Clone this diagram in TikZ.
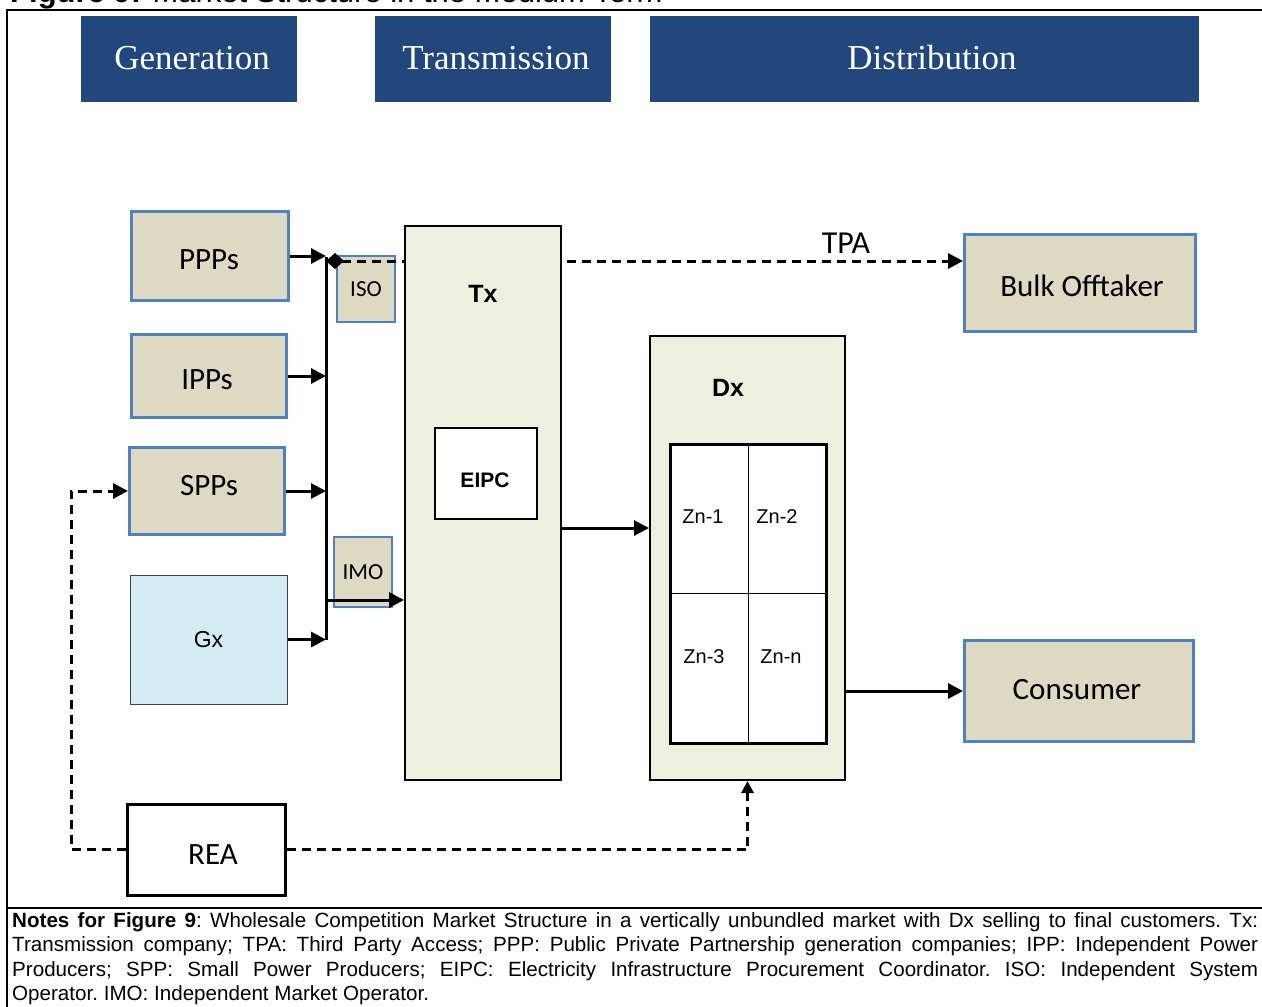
\documentclass[tikz,border=0pt]{standalone}
\usepackage{fontspec}
\setmainfont{Liberation Sans}
\newfontfamily\calfont{Carlito}
\newfontfamily\serfont{Liberation Serif}
\usetikzlibrary{arrows.meta}
\definecolor{hdrblue}{HTML}{21477D}
\definecolor{tanfill}{HTML}{DDD9C3}
\definecolor{bordblue}{HTML}{4F81BD}
\definecolor{lgreen}{HTML}{EBF1DE}
\definecolor{lblue}{HTML}{D3EBF1}
\tikzset{
  hdr/.style={fill=hdrblue, inner sep=0pt},
  hdrtxt/.style={text=white, inner sep=0pt, font=\serfont\fontsize{35}{40}\selectfont},
  tanbox/.style={fill=tanfill, draw=bordblue, line width=3pt, inner sep=0pt},
  tantxt/.style={inner sep=0pt, font=\calfont\fontsize{31}{36}\selectfont},
  tansmall/.style={fill=tanfill, draw=bordblue, line width=1.5pt, inner sep=0pt, font=\calfont\fontsize{23}{26}\selectfont},
  grnbox/.style={fill=lgreen, draw=black, line width=2pt, inner sep=0pt},
  lbl/.style={inner sep=0pt, font=\fontsize{20}{24}\selectfont},
  boldlbl/.style={inner sep=0pt, font=\bfseries\fontsize{25}{28}\selectfont},
  arr/.style={line width=3pt, -{Triangle[length=15pt,width=15pt]}},
  dsh/.style={line width=3pt, dash pattern=on 9pt off 6pt},
}
\begin{document}
\begin{tikzpicture}[x=1pt,y=-1pt]
\useasboundingbox (0,0) rectangle (1262,1007);
% title (cut off at the top, as in the source)
\begin{scope}
\clip (0,0) rectangle (1262,1007);
\node[anchor=base west, inner sep=0pt, font=\fontsize{31}{36}\selectfont] (title) at (10,2) {\textbf{Figure 9:} Market Structure in the Medium Term};
\end{scope}
% frame
\draw[line width=2pt] (1262,10) -- (7,10) -- (7,1007);
\draw[line width=2pt] (7,908) -- (1262,908);
% headers
\node[hdr, minimum width=216pt, minimum height=86pt] (gen) at (189,59) {};
\node[hdrtxt] (gent) at (192,58) {Generation};
\node[hdr, minimum width=236pt, minimum height=86pt] (trn) at (493,59) {};
\node[hdrtxt] (trnt) at (496,58) {Transmission};
\node[hdr, minimum width=549pt, minimum height=86pt] (dst) at (924.5,59) {};
\node[hdrtxt] (dstt) at (932,58) {Distribution};
% generators
\node[tanbox, minimum width=157pt, minimum height=89pt] (ppp) at (210,256) {};
\node[tantxt] (pppt) at (209,260) {PPPs};
\node[tanbox, minimum width=155pt, minimum height=83pt] (ipp) at (209,376) {};
\node[tantxt] (ippt) at (207,380) {IPPs};
\node[tanbox, minimum width=155pt, minimum height=87pt] (spp) at (207,491) {};
\node[tantxt] (sppt) at (209,486) {SPPs};
\node[fill=lblue, draw=black!75, line width=1pt, minimum width=157pt, minimum height=129pt, inner sep=0pt, font=\fontsize{23}{26}\selectfont] (gx) at (208.5,639.5) {Gx};
% operators
\node[tansmall, minimum width=58pt, minimum height=66pt] (iso) at (366,289) {ISO};
\node[tansmall, minimum width=58pt, minimum height=70pt] (imo) at (363,572) {IMO};
% coordinates
\coordinate (bus) at (326,0);
\coordinate (tpay) at (0,261);
\coordinate (imoy) at (0,600);
\coordinate (txy) at (0,528);
\coordinate (lx) at (71,0);
% right side boxes
\node[tanbox, minimum width=231pt, minimum height=97pt] (bulk) at (1080,283) {};
\node[tantxt] (bulkt) at (1082,286) {Bulk Offtaker};
\node[tanbox, minimum width=229pt, minimum height=101pt] (cons) at (1079,691) {};
\node[tantxt] (const) at (1077,690) {Consumer};
% TPA dashed line
\draw[dsh, {Diamond[length=18pt,width=16pt]}-{Triangle[length=15pt,width=15pt]}] (bus |- tpay) -- (bulk.west |- tpay);
\node[inner sep=0pt, font=\calfont\fontsize{32}{36}\selectfont] (tpa) at (846,243) {TPA};
% Tx
\node[grnbox, minimum width=156pt, minimum height=554pt] (tx) at (483,503) {};
\node[boldlbl] (txl) at (483,294) {Tx};
\node[draw=black, fill=white, line width=2pt, minimum width=102pt, minimum height=91pt, inner sep=0pt] (eipc) at (486,473.5) {};
\node[inner sep=0pt, font=\bfseries\fontsize{21}{24}\selectfont] (eipct) at (485,480) {EIPC};
% Dx
\node[grnbox, minimum width=195pt, minimum height=444pt] (dx) at (747.5,558) {};
\node[boldlbl] (dxl) at (728,388) {Dx};
\node[draw=black, fill=white, line width=3pt, minimum width=156pt, minimum height=299pt, inner sep=0pt] (grid) at (748,593.5) {};
\draw[line width=1pt] (grid.north) -- (grid.south);
\draw[line width=1pt] (grid.west) -- (grid.east);
\node[lbl] (z1) at (703,517) {Zn-1};
\node[lbl] (z2) at (777,517) {Zn-2};
\node[lbl] (z3) at (704,657) {Zn-3};
\node[lbl] (zn) at (781,657) {Zn-n};
% REA
\node[draw=black, fill=white, line width=3pt, minimum width=158pt, minimum height=91pt, inner sep=0pt] (rea) at (206,849.5) {};
\node[tantxt] (reat) at (213,855) {REA};
% bus and arrows
\draw[line width=3pt] (bus |- 0,257) -- (bus |- 0,640);
\draw[arr] (ppp.east) -- (ppp.east -| bus);
\draw[arr] (ipp.east) -- (ipp.east -| bus);
\draw[arr] (spp.east) -- (spp.east -| bus);
\draw[arr] (gx.east) -- (gx.east -| bus);
\draw[arr] (bus |- imoy) -- (tx.west |- imoy);
\draw[arr] (tx.east |- txy) -- (dx.west |- txy);
\draw[arr] (dx.east |- cons.west) -- (cons.west);
% REA dashed connectors
\draw[dsh, -{Triangle[length=15pt,width=15pt]}] (rea.west) -- (rea.west -| lx) -- (lx |- spp.west) -- (spp.west);
\draw[dsh, -{Triangle[length=12pt,width=12pt]}] (rea.east) -| (dx.south);
% notes
\node[anchor=north west, inner sep=0pt] (notes) at (12,910) {\parbox[t]{1246pt}{\fontsize{20.6}{24.5}\selectfont\frenchspacing\hyphenpenalty=10000\strut\textbf{Notes for Figure 9}: Wholesale Competition Market Structure in a vertically unbundled market with Dx selling to final customers. Tx:\linebreak Transmission company; TPA: Third Party Access; PPP: Public Private Partnership generation companies; IPP: Independent Power\linebreak Producers; SPP: Small Power Producers; EIPC: Electricity Infrastructure Procurement Coordinator. ISO: Independent System\linebreak Operator. IMO: Independent Market Operator.}};
\end{tikzpicture}
\end{document}
